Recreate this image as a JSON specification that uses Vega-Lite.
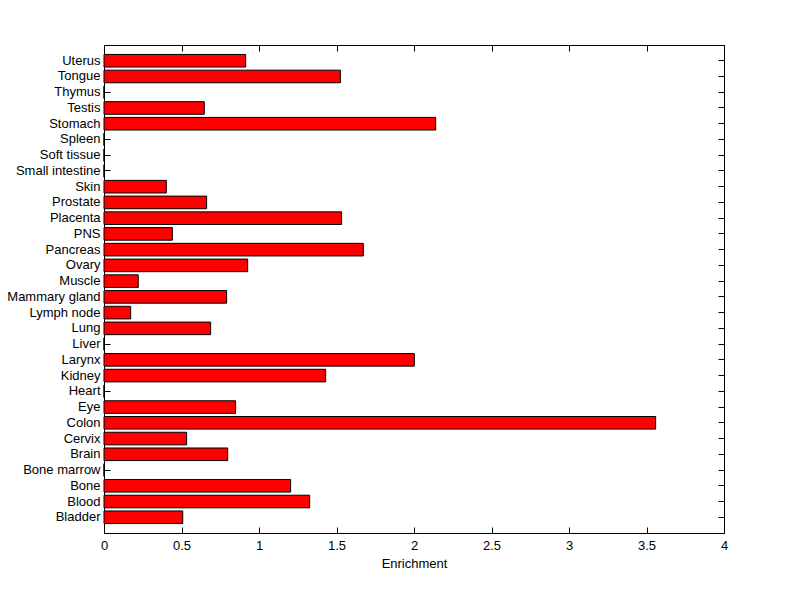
{
  "$schema": "https://vega.github.io/schema/vega-lite/v6.json",
  "autosize": {"type": "none"},
  "padding": {"left": 104, "top": 45, "right": 76, "bottom": 66},
  "width": 620,
  "height": 488,
  "background": "white",
  "data": {"values": [
    {"tissue": "Uterus", "enrichment": 0.914},
    {"tissue": "Tongue", "enrichment": 1.525},
    {"tissue": "Thymus", "enrichment": 0},
    {"tissue": "Testis", "enrichment": 0.647},
    {"tissue": "Stomach", "enrichment": 2.14},
    {"tissue": "Spleen", "enrichment": 0},
    {"tissue": "Soft tissue", "enrichment": 0},
    {"tissue": "Small intestine", "enrichment": 0},
    {"tissue": "Skin", "enrichment": 0.402},
    {"tissue": "Prostate", "enrichment": 0.662},
    {"tissue": "Placenta", "enrichment": 1.533},
    {"tissue": "PNS", "enrichment": 0.441},
    {"tissue": "Pancreas", "enrichment": 1.673},
    {"tissue": "Ovary", "enrichment": 0.927},
    {"tissue": "Muscle", "enrichment": 0.221},
    {"tissue": "Mammary gland", "enrichment": 0.791},
    {"tissue": "Lymph node", "enrichment": 0.172},
    {"tissue": "Lung", "enrichment": 0.688},
    {"tissue": "Liver", "enrichment": 0},
    {"tissue": "Larynx", "enrichment": 2.002},
    {"tissue": "Kidney", "enrichment": 1.43},
    {"tissue": "Heart", "enrichment": 0},
    {"tissue": "Eye", "enrichment": 0.849},
    {"tissue": "Colon", "enrichment": 3.559},
    {"tissue": "Cervix", "enrichment": 0.533},
    {"tissue": "Brain", "enrichment": 0.798},
    {"tissue": "Bone marrow", "enrichment": 0},
    {"tissue": "Bone", "enrichment": 1.204},
    {"tissue": "Blood", "enrichment": 1.327},
    {"tissue": "Bladder", "enrichment": 0.508}
  ]},
  "layer": [
    {
      "mark": {"type": "bar", "fill": "#ff0000", "stroke": "#000000", "strokeWidth": 1},
      "encoding": {
        "y": {
          "field": "tissue", "type": "nominal",
          "sort": ["Uterus","Tongue","Thymus","Testis","Stomach","Spleen","Soft tissue","Small intestine","Skin","Prostate","Placenta","PNS","Pancreas","Ovary","Muscle","Mammary gland","Lymph node","Lung","Liver","Larynx","Kidney","Heart","Eye","Colon","Cervix","Brain","Bone marrow","Bone","Blood","Bladder"],
          "scale": {"paddingInner": 0.2, "paddingOuter": 0.6},
          "axis": {"orient": "left", "title": null, "tickSize": -6, "labelPadding": 10}
        },
        "x": {
          "field": "enrichment", "type": "quantitative",
          "scale": {"domain": [0, 4], "nice": false, "zero": true},
          "axis": {"orient": "bottom", "title": "Enrichment", "values": [0,0.5,1,1.5,2,2.5,3,3.5,4], "labelExpr": "'' + datum.value", "tickSize": -6, "labelPadding": 12, "titlePadding": 5, "labelFlush": false}
        }
      }
    },
    {
      "mark": {"type": "bar", "fillOpacity": 0, "strokeOpacity": 0},
      "encoding": {
        "y": {
          "field": "tissue", "type": "nominal",
          "sort": ["Uterus","Tongue","Thymus","Testis","Stomach","Spleen","Soft tissue","Small intestine","Skin","Prostate","Placenta","PNS","Pancreas","Ovary","Muscle","Mammary gland","Lymph node","Lung","Liver","Larynx","Kidney","Heart","Eye","Colon","Cervix","Brain","Bone marrow","Bone","Blood","Bladder"],
          "axis": {"orient": "right", "title": null, "labels": false, "tickSize": -6}
        },
        "x": {
          "field": "enrichment", "type": "quantitative",
          "axis": {"orient": "top", "title": null, "labels": false, "values": [0,0.5,1,1.5,2,2.5,3,3.5,4], "tickSize": -6}
        }
      }
    }
  ],
  "resolve": {"axis": {"x": "independent", "y": "independent"}},
  "config": {
    "view": {"stroke": "#000000", "strokeWidth": 1},
    "axis": {
      "grid": false,
      "domainColor": "#000000",
      "tickColor": "#000000",
      "labelColor": "#000000",
      "titleColor": "#000000",
      "labelFont": "Liberation Sans",
      "titleFont": "Liberation Sans",
      "labelFontSize": 13,
      "titleFontSize": 13,
      "titleFontWeight": "normal",
      "domainWidth": 1,
      "tickWidth": 1
    }
  }
}
